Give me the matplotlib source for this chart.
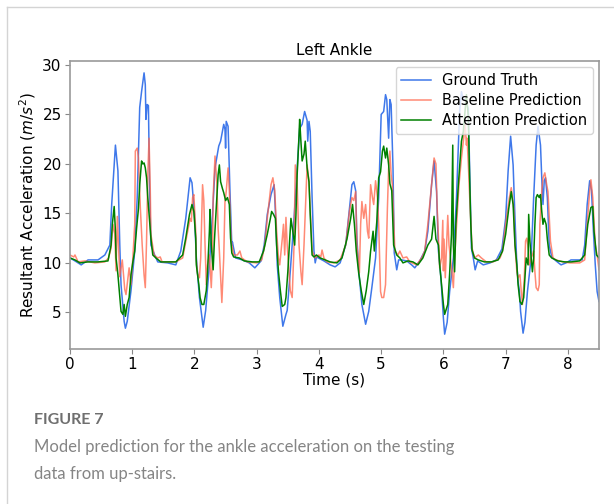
import numpy as np
import matplotlib
matplotlib.use("Agg")
import matplotlib.pyplot as plt
from matplotlib.lines import Line2D

# ground truth (blue)
gt_t = [0.00, 0.08, 0.18, 0.29, 0.45, 0.56, 0.64, 0.67, 0.73, 0.77, 0.80, 0.82, 0.87, 0.89, 0.92, 0.98,
        1.04, 1.08, 1.12, 1.15, 1.19, 1.21, 1.22, 1.24, 1.26, 1.28, 1.30, 1.36, 1.41, 1.57, 1.70, 1.78,
        1.86, 1.93, 1.96, 2.00, 2.03, 2.08, 2.14, 2.18, 2.24, 2.29, 2.33, 2.39, 2.42, 2.47, 2.49, 2.50,
        2.51, 2.54, 2.57, 2.60, 2.61, 2.66, 2.77, 2.88, 2.97, 3.07, 3.12, 3.17, 3.23, 3.28, 3.31, 3.33,
        3.37, 3.42, 3.47, 3.49, 3.54, 3.60, 3.65, 3.69, 3.73, 3.77, 3.81, 3.82, 3.84, 3.86, 3.89, 3.92,
        3.94, 3.96, 4.08, 4.18, 4.26, 4.34, 4.43, 4.48, 4.53, 4.56, 4.59, 4.61, 4.64, 4.69, 4.75, 4.80,
        4.85, 4.91, 4.96, 5.00, 5.04, 5.07, 5.09, 5.12, 5.14, 5.16, 5.19, 5.21, 5.25, 5.28, 5.33, 5.41,
        5.49, 5.54, 5.62, 5.70, 5.75, 5.81, 5.85, 5.89, 5.92, 5.96, 6.00, 6.02, 6.06, 6.10, 6.16, 6.21,
        6.26, 6.29, 6.32, 6.35, 6.40, 6.43, 6.45, 6.48, 6.51, 6.55, 6.64, 6.75, 6.85, 6.94, 7.00, 7.04,
        7.08, 7.12, 7.15, 7.18, 7.20, 7.22, 7.24, 7.28, 7.31, 7.35, 7.41, 7.45, 7.49, 7.52, 7.56, 7.58,
        7.60, 7.62, 7.64, 7.67, 7.70, 7.74, 7.81, 7.89, 7.97, 8.05, 8.16, 8.23, 8.27, 8.31, 8.35, 8.38,
        8.41, 8.44, 8.47, 8.50]
gt_v = [10.5, 10.2, 9.8, 10.3, 10.3, 10.8, 11.8, 15.9, 21.9, 19.3, 11.8, 7.8, 4.1, 3.4, 4.1, 7.2,
        11.2, 16.6, 25.7, 27.3, 29.2, 28.0, 24.5, 26.0, 25.9, 17.3, 11.8, 10.8, 10.1, 10.0, 9.8, 11.2,
        14.5, 18.6, 18.1, 14.9, 10.5, 6.5, 3.5, 5.2, 9.8, 14.9, 19.6, 21.8, 22.3, 24.0, 23.5, 21.6,
        24.3, 23.8, 17.3, 11.8, 12.1, 10.5, 10.3, 10.0, 9.5, 10.2, 11.8, 14.9, 16.9, 17.9, 13.9, 9.8,
        6.5, 3.6, 4.8, 5.2, 9.2, 14.5, 19.6, 23.6, 24.0, 25.3, 24.4, 22.3, 24.3, 23.3, 16.6, 11.2,
        10.0, 10.6, 10.2, 9.8, 9.6, 10.0, 11.8, 14.9, 17.9, 18.2, 17.3, 12.5, 9.2, 5.8, 3.8, 5.1,
        7.5, 10.5, 16.6, 25.0, 25.3, 27.0, 26.5, 22.6, 26.5, 26.0, 19.6, 11.0, 9.3, 10.3, 10.3, 10.2,
        9.8, 9.5, 10.2, 11.2, 13.2, 17.9, 20.3, 17.2, 11.2, 8.5, 4.4, 2.8, 4.0, 7.1, 10.5, 16.6,
        25.3, 27.3, 26.5, 26.5, 25.6, 17.2, 11.5, 10.5, 9.3, 10.2, 9.8, 10.0, 10.3, 11.4, 14.5, 19.3,
        22.8, 19.9, 14.5, 9.8, 8.1, 7.2, 5.1, 2.9, 4.0, 7.1, 10.5, 16.6, 21.9, 23.8, 21.9, 18.6,
        15.9, 18.3, 18.6, 16.6, 11.8, 10.6, 10.2, 9.8, 10.0, 10.3, 10.3, 10.3, 11.8, 15.9, 18.3, 17.3,
        13.2, 9.8, 7.1, 6.1]

# baseline prediction (red)
base_t = [0.00, 0.06, 0.08, 0.13, 0.24, 0.40, 0.56, 0.62, 0.66, 0.69, 0.72, 0.74, 0.76, 0.80, 0.84, 0.88,
          0.90, 0.95, 0.98, 1.01, 1.04, 1.05, 1.08, 1.10, 1.13, 1.16, 1.19, 1.21, 1.23, 1.25, 1.27, 1.29,
          1.30, 1.35, 1.41, 1.45, 1.48, 1.61, 1.70, 1.81, 1.89, 1.93, 1.95, 1.97, 1.99, 2.02, 2.03, 2.05,
          2.08, 2.10, 2.13, 2.15, 2.17, 2.19, 2.21, 2.24, 2.27, 2.29, 2.30, 2.33, 2.36, 2.38, 2.40, 2.44,
          2.47, 2.49, 2.51, 2.54, 2.56, 2.59, 2.63, 2.69, 2.73, 2.76, 2.85, 3.00, 3.08, 3.13, 3.17, 3.23,
          3.26, 3.29, 3.32, 3.35, 3.37, 3.41, 3.43, 3.45, 3.47, 3.49, 3.52, 3.54, 3.57, 3.60, 3.62, 3.65,
          3.68, 3.71, 3.73, 3.76, 3.79, 3.81, 3.84, 3.87, 3.89, 3.94, 4.00, 4.03, 4.05, 4.08, 4.13, 4.24,
          4.34, 4.43, 4.49, 4.53, 4.56, 4.59, 4.61, 4.65, 4.67, 4.69, 4.72, 4.75, 4.78, 4.80, 4.83, 4.86,
          4.88, 4.91, 4.94, 4.96, 4.99, 5.01, 5.04, 5.07, 5.10, 5.12, 5.14, 5.16, 5.18, 5.20, 5.22, 5.27,
          5.30, 5.35, 5.41, 5.46, 5.57, 5.65, 5.70, 5.75, 5.81, 5.85, 5.88, 5.90, 5.93, 5.94, 5.97, 5.99,
          6.00, 6.01, 6.03, 6.07, 6.09, 6.12, 6.14, 6.16, 6.18, 6.22, 6.25, 6.29, 6.32, 6.35, 6.37, 6.38,
          6.40, 6.43, 6.46, 6.50, 6.56, 6.61, 6.69, 6.80, 6.91, 6.95, 7.00, 7.06, 7.09, 7.13, 7.15, 7.18,
          7.20, 7.23, 7.25, 7.27, 7.30, 7.32, 7.34, 7.37, 7.38, 7.41, 7.43, 7.45, 7.47, 7.49, 7.52, 7.54,
          7.55, 7.58, 7.60, 7.63, 7.66, 7.68, 7.72, 7.76, 7.81, 7.92, 8.03, 8.19, 8.27, 8.31, 8.35, 8.37,
          8.40, 8.44, 8.47, 8.50]
base_v = [10.8, 10.6, 10.8, 10.1, 10.2, 10.0, 10.1, 10.5, 11.5, 13.9, 12.9, 9.2, 14.7, 8.6, 10.3, 7.3,
          6.8, 9.5, 7.8, 10.5, 13.9, 21.3, 21.6, 20.6, 15.6, 11.8, 8.8, 7.5, 12.2, 18.9, 22.6, 17.3,
          12.9, 10.8, 10.5, 10.6, 10.1, 10.1, 10.1, 10.5, 13.2, 14.5, 14.2, 16.6, 16.9, 13.2, 10.2, 8.9,
          8.5, 10.5, 17.9, 16.3, 11.8, 7.8, 9.8, 10.8, 7.5, 10.5, 16.6, 20.8, 18.0, 13.5, 11.2, 6.0,
          10.5, 16.2, 17.2, 19.6, 17.3, 12.2, 10.8, 10.8, 11.2, 10.5, 10.1, 10.0, 10.3, 11.8, 14.5, 17.9,
          18.6, 17.3, 13.2, 10.5, 9.8, 12.4, 13.9, 10.8, 14.6, 11.8, 9.1, 7.2, 6.5, 11.8, 19.9, 18.0,
          11.8, 9.1, 7.8, 11.8, 16.6, 19.9, 18.2, 13.9, 11.2, 10.5, 10.8, 10.6, 11.3, 10.5, 10.1, 10.0,
          10.3, 11.8, 15.2, 16.6, 16.3, 17.2, 11.8, 9.0, 13.9, 16.2, 14.5, 15.9, 13.2, 12.5, 17.9, 16.6,
          15.9, 18.3, 16.6, 13.9, 7.1, 6.5, 6.5, 7.8, 15.5, 19.6, 21.3, 18.9, 17.9, 14.5, 11.2, 10.8,
          11.2, 10.5, 10.6, 10.1, 9.8, 10.5, 11.2, 13.9, 17.9, 20.6, 20.0, 15.5, 11.2, 9.5, 10.5, 14.3,
          9.2, 12.4, 8.5, 14.8, 11.8, 10.1, 8.9, 7.5, 10.5, 14.8, 17.9, 20.6, 22.3, 24.0, 21.9, 22.6,
          20.0, 15.5, 11.5, 10.5, 10.8, 10.5, 10.1, 10.1, 10.5, 11.2, 13.9, 16.6, 17.6, 15.5, 11.8, 9.1,
          8.5, 8.8, 7.2, 5.8, 8.5, 12.2, 12.5, 11.2, 9.8, 10.5, 10.8, 11.2, 9.1, 7.5, 7.2, 7.8,
          13.9, 17.2, 18.6, 19.1, 17.9, 17.2, 12.2, 10.5, 10.3, 10.1, 10.0, 10.0, 10.3, 13.9, 17.2, 18.4,
          16.6, 11.8, 10.8, 9.3]

# attention prediction (green)
att_t = [0.00, 0.08, 0.16, 0.29, 0.45, 0.61, 0.66, 0.68, 0.71, 0.73, 0.74, 0.77, 0.80, 0.82, 0.85, 0.87,
         0.89, 0.92, 0.95, 0.98, 1.01, 1.04, 1.07, 1.10, 1.12, 1.15, 1.17, 1.19, 1.21, 1.23, 1.25, 1.27,
         1.30, 1.33, 1.38, 1.46, 1.62, 1.70, 1.81, 1.86, 1.92, 1.96, 1.99, 2.02, 2.03, 2.07, 2.09, 2.12,
         2.15, 2.19, 2.21, 2.24, 2.25, 2.27, 2.30, 2.32, 2.35, 2.38, 2.40, 2.42, 2.45, 2.47, 2.50, 2.53,
         2.56, 2.58, 2.60, 2.63, 2.72, 2.80, 2.93, 3.04, 3.11, 3.17, 3.22, 3.24, 3.27, 3.30, 3.32, 3.35,
         3.38, 3.41, 3.45, 3.47, 3.50, 3.53, 3.55, 3.58, 3.61, 3.63, 3.65, 3.68, 3.69, 3.71, 3.73, 3.76,
         3.78, 3.81, 3.84, 3.86, 3.89, 3.92, 3.96, 4.02, 4.10, 4.18, 4.29, 4.37, 4.45, 4.51, 4.54, 4.57,
         4.60, 4.64, 4.68, 4.72, 4.76, 4.80, 4.83, 4.87, 4.89, 4.93, 4.96, 4.99, 5.02, 5.04, 5.07, 5.09,
         5.12, 5.14, 5.17, 5.20, 5.23, 5.25, 5.30, 5.35, 5.43, 5.51, 5.59, 5.67, 5.75, 5.81, 5.85, 5.88,
         5.92, 5.94, 5.97, 6.00, 6.02, 6.07, 6.10, 6.13, 6.15, 6.16, 6.18, 6.20, 6.24, 6.27, 6.29, 6.32,
         6.35, 6.37, 6.40, 6.42, 6.44, 6.46, 6.50, 6.56, 6.66, 6.77, 6.88, 6.95, 7.00, 7.05, 7.09, 7.12,
         7.15, 7.18, 7.20, 7.23, 7.26, 7.29, 7.31, 7.33, 7.36, 7.37, 7.39, 7.41, 7.43, 7.45, 7.47, 7.49,
         7.51, 7.54, 7.56, 7.58, 7.60, 7.62, 7.65, 7.67, 7.70, 7.74, 7.84, 7.95, 8.05, 8.19, 8.27, 8.32,
         8.37, 8.40, 8.42, 8.46, 8.50]
att_v = [10.5, 10.3, 10.0, 10.1, 10.1, 10.2, 11.8, 13.9, 15.7, 13.2, 10.5, 8.8, 6.5, 5.1, 4.8, 5.8,
         4.6, 5.8, 6.5, 8.8, 10.1, 11.2, 13.5, 15.5, 17.9, 20.3, 20.0, 20.1, 19.6, 18.6, 16.6, 14.9,
         12.5, 10.8, 10.5, 10.1, 10.1, 10.1, 10.8, 12.5, 14.9, 15.9, 15.2, 12.5, 9.8, 7.8, 6.5, 5.8,
         5.8, 7.2, 9.1, 13.2, 15.4, 11.8, 9.3, 12.2, 15.5, 18.9, 19.9, 18.2, 17.5, 17.1, 16.3, 16.6,
         15.9, 12.5, 11.0, 10.6, 10.5, 10.2, 10.1, 10.1, 11.2, 12.9, 14.5, 15.2, 14.9, 14.5, 11.8, 9.1,
         7.2, 5.6, 5.8, 6.5, 9.1, 12.4, 14.5, 13.2, 11.8, 14.8, 18.9, 22.9, 24.5, 22.3, 20.3, 21.0,
         22.3, 19.6, 18.2, 14.9, 10.8, 10.6, 10.8, 10.5, 10.3, 10.1, 10.0, 10.5, 12.4, 14.5, 15.9, 13.9,
         11.2, 8.9, 7.2, 5.8, 7.2, 9.1, 11.2, 13.2, 11.2, 14.2, 18.6, 19.2, 21.3, 21.8, 20.6, 21.6,
         19.9, 18.0, 17.3, 11.8, 11.2, 10.8, 10.5, 10.0, 10.2, 10.1, 9.8, 10.5, 11.8, 12.4, 14.7, 12.4,
         11.8, 9.8, 7.8, 5.8, 4.8, 5.8, 8.9, 12.9, 21.9, 11.8, 9.1, 13.9, 17.9, 20.6, 22.3, 23.3,
         25.6, 27.0, 24.7, 18.9, 13.9, 11.3, 10.5, 10.3, 10.1, 10.1, 10.3, 11.2, 12.9, 15.5, 17.2, 15.9,
         11.8, 9.8, 7.8, 6.1, 5.8, 6.5, 8.5, 10.5, 9.8, 14.9, 12.2, 10.5, 9.1, 10.5, 13.9, 16.6,
         16.9, 16.6, 16.9, 15.2, 13.9, 14.5, 13.9, 12.4, 10.8, 10.5, 10.2, 10.1, 10.1, 10.2, 10.8, 13.9,
         15.6, 15.7, 13.2, 10.8, 10.5]

x_ticks = [0, 1, 2, 3, 4, 5, 6, 7, 8]
y_ticks = [5, 10, 15, 20, 25, 30]

fig = plt.figure(figsize=(6.14, 5.04), dpi=100)
ax = fig.add_axes([70 / 614, 1 - 349 / 504, 529 / 614, 288 / 504])

ax.plot(gt_t, gt_v, color='#3f78ea', lw=1.1, label='Ground Truth')
ax.plot(base_t, base_v, color='tomato', alpha=0.75, lw=1.1, label='Baseline Prediction')
ax.plot(att_t, att_v, color='green', lw=1.1, label='Attention Prediction')

ax.set_xlim(0, 8.5)
ax.set_ylim(1.3, 30.4)
ax.set_xticks(x_ticks)
ax.set_yticks(y_ticks)
ax.tick_params(labelsize=11, color='#888888', length=3.5, pad=2.5)
for s in ax.spines.values():
    s.set_color('#999999')
    s.set_linewidth(1.2)

ax.set_title('Left Ankle', fontsize=11, pad=4)
ax.set_xlabel('Time (s)', fontsize=11, labelpad=0)
ax.set_ylabel('Resultant Acceleration ($m/s^2$)', fontsize=11, labelpad=3)
ax.legend(loc='upper right', fontsize=10.5, borderaxespad=0.4, labelspacing=0.35)

# card border
fig.add_artist(Line2D([7 / 614, 1], [1 - 7 / 504, 1 - 7 / 504], color='#d4d4d4', lw=1.0,
                      transform=fig.transFigure))
fig.add_artist(Line2D([7 / 614, 7 / 614], [0, 1 - 7 / 504], color='#d4d4d4', lw=1.0,
                      transform=fig.transFigure))

fig.text(34 / 614, 1 - 424 / 504, 'FIGURE 7', fontsize=11.5, color='#6f6f6f',
         family=['Lato', 'DejaVu Sans'], weight='bold')
fig.text(34 / 614, 1 - 452 / 504, 'Model prediction for the ankle acceleration on the testing',
         fontsize=12, color='#858585', family=['Lato', 'DejaVu Sans'])
fig.text(34 / 614, 1 - 479 / 504, 'data from up-stairs.',
         fontsize=12, color='#858585', family=['Lato', 'DejaVu Sans'])

fig.savefig('out.png', dpi=100)
